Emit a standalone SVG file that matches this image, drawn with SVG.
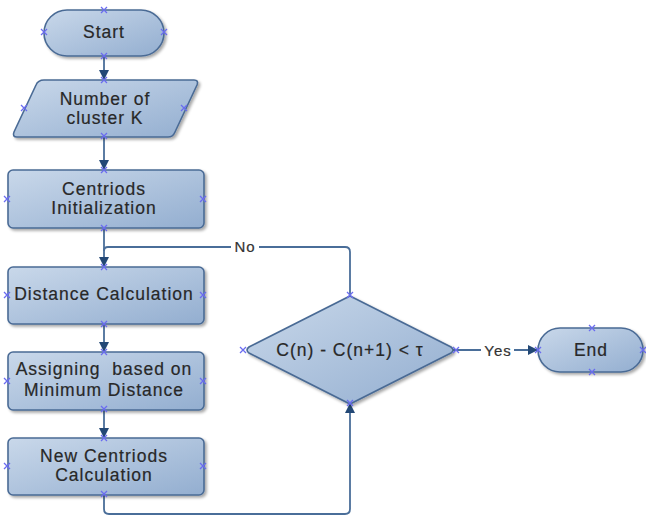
<svg xmlns="http://www.w3.org/2000/svg" xmlns:xlink="http://www.w3.org/1999/xlink" width="646" height="516" viewBox="0 0 646 516">
  <defs>
    <linearGradient id="fillGrad" x1="0" y1="0" x2="1" y2="1">
      <stop offset="0" stop-color="#c9d8ea"/>
      <stop offset="1" stop-color="#93aed0"/>
    </linearGradient>
    <filter id="shadow" x="-10%" y="-10%" width="130%" height="140%">
      <feGaussianBlur in="SourceAlpha" stdDeviation="1.5"/>
      <feOffset dx="1.5" dy="2" result="b"/>
      <feComponentTransfer><feFuncA type="linear" slope="0.35"/></feComponentTransfer>
      <feMerge><feMergeNode/><feMergeNode in="SourceGraphic"/></feMerge>
    </filter>
    <marker id="arrow" viewBox="0 0 10 10" refX="9" refY="5" markerWidth="10" markerHeight="10" orient="auto" markerUnits="userSpaceOnUse">
      <path d="M0,0 L10,5 L0,10 z" fill="#234876"/>
    </marker>
    <g id="pin">
      <path d="M-3,-3 L3,3 M-3,3 L3,-3" stroke="#6a6cf0" stroke-width="1.3" fill="none"/>
    </g>
  </defs>
  <style>
    .shape { fill: url(#fillGrad); stroke: #4a6b95; stroke-width: 1.6; filter: url(#shadow); }
    .label { font-family: "Liberation Sans", Arial, sans-serif; font-size: 17.5px; letter-spacing: 1px; fill: #282828; stroke: #282828; stroke-width: 0.2; text-anchor: middle; }
    .edge { fill: none; stroke: #4a6e99; stroke-width: 1.8; }
    .edgeLabel { font-family: "Liberation Sans", Arial, sans-serif; font-size: 15px; letter-spacing: 1px; fill: #333; stroke: #333; stroke-width: 0.2; text-anchor: middle; }
  </style>
  <rect width="646" height="516" fill="#ffffff"/>

  <!-- connectors -->
  <g id="connectors">
    <path class="edge" d="M104,56 L104,79" marker-end="url(#arrow)"/>
    <path class="edge" d="M104,137 L104,169" marker-end="url(#arrow)"/>
    <path class="edge" d="M104,228 L104,266" marker-end="url(#arrow)"/>
    <path class="edge" d="M350,296 L350,252 Q350,247 345,247 L259,247 M231,247 L108,247 Q104,247 104,251"/>
    <text class="edgeLabel" x="245" y="252">No</text>
    <path class="edge" d="M104,324 L104,351" marker-end="url(#arrow)"/>
    <path class="edge" d="M104,410 L104,437" marker-end="url(#arrow)"/>
    <path class="edge" d="M104,495 L104,509 Q104,514 109,514 L345,514 Q350,514 350,509 L350,404" marker-end="url(#arrow)"/>
    <path class="edge" d="M453,350 L481,350 M514,350 L537,350" marker-end="url(#arrow)"/>
    <text class="edgeLabel" x="498" y="356">Yes</text>
  </g>

  <!-- Start -->
  <g id="start">
    <rect class="shape" x="44" y="10" width="120" height="46" rx="23" ry="23"/>
    <text class="label" x="104" y="38">Start</text>
  </g>

  <!-- Number of clusters input -->
  <g id="input-k">
    <path class="shape" d="M44,80 L194,80 Q199,80 197,85 L175,132 Q173,137 168,137 L17,137 Q12,137 14,132 L36,85 Q38,80 44,80 z"/>
    <text class="label" x="105" y="105">Number of</text>
    <text class="label" x="105" y="124">cluster K</text>
  </g>

  <!-- Centroids initialization -->
  <g id="init">
    <rect class="shape" x="8" y="170" width="196" height="58" rx="5"/>
    <text class="label" x="104" y="195">Centriods</text>
    <text class="label" x="104" y="214">Initialization</text>
  </g>

  <!-- Distance calculation -->
  <g id="distance">
    <rect class="shape" x="8" y="267" width="196" height="57" rx="5"/>
    <text class="label" x="104" y="300">Distance Calculation</text>
  </g>

  <!-- Assignment step -->
  <g id="assign">
    <rect class="shape" x="8" y="352" width="196" height="58" rx="5"/>
    <text class="label" x="104" y="375">Assigning &#160;based on</text>
    <text class="label" x="104" y="396">Minimum Distance</text>
  </g>

  <!-- New centroids -->
  <g id="update">
    <rect class="shape" x="8" y="438" width="196" height="57" rx="5"/>
    <text class="label" x="104" y="462">New Centriods</text>
    <text class="label" x="104" y="481">Calculation</text>
  </g>

  <!-- Convergence test -->
  <g id="decision">
    <path class="shape" d="M350,296 L451,347 Q455,350 451,353 L350,404 L249,353 Q245,350 249,347 z"/>
    <text class="label" x="350" y="356">C(n) - C(n+1) &lt; τ</text>
  </g>

  <!-- End -->
  <g id="end">
    <rect class="shape" x="538" y="328" width="105" height="44" rx="22" ry="22"/>
    <text class="label" x="591" y="356">End</text>
  </g>

  <!-- connection points -->
  <g id="pins">
    <use xlink:href="#pin" x="104" y="10"/>
    <use xlink:href="#pin" x="44" y="32"/>
    <use xlink:href="#pin" x="164" y="32"/>
    <use xlink:href="#pin" x="104" y="56"/>
    <use xlink:href="#pin" x="104" y="80"/>
    <use xlink:href="#pin" x="24" y="108"/>
    <use xlink:href="#pin" x="184" y="108"/>
    <use xlink:href="#pin" x="104" y="136"/>
    <use xlink:href="#pin" x="104" y="170"/>
    <use xlink:href="#pin" x="7" y="199"/>
    <use xlink:href="#pin" x="203" y="199"/>
    <use xlink:href="#pin" x="104" y="228"/>
    <use xlink:href="#pin" x="104" y="267"/>
    <use xlink:href="#pin" x="7" y="295"/>
    <use xlink:href="#pin" x="203" y="295"/>
    <use xlink:href="#pin" x="104" y="324"/>
    <use xlink:href="#pin" x="104" y="352"/>
    <use xlink:href="#pin" x="7" y="381"/>
    <use xlink:href="#pin" x="203" y="381"/>
    <use xlink:href="#pin" x="104" y="409"/>
    <use xlink:href="#pin" x="104" y="438"/>
    <use xlink:href="#pin" x="7" y="466"/>
    <use xlink:href="#pin" x="203" y="466"/>
    <use xlink:href="#pin" x="104" y="494"/>
    <use xlink:href="#pin" x="350" y="295"/>
    <use xlink:href="#pin" x="243" y="350"/>
    <use xlink:href="#pin" x="456" y="350"/>
    <use xlink:href="#pin" x="350" y="403"/>
    <use xlink:href="#pin" x="592" y="328"/>
    <use xlink:href="#pin" x="538" y="350"/>
    <use xlink:href="#pin" x="643" y="350"/>
    <use xlink:href="#pin" x="592" y="372"/>
  </g>
</svg>
